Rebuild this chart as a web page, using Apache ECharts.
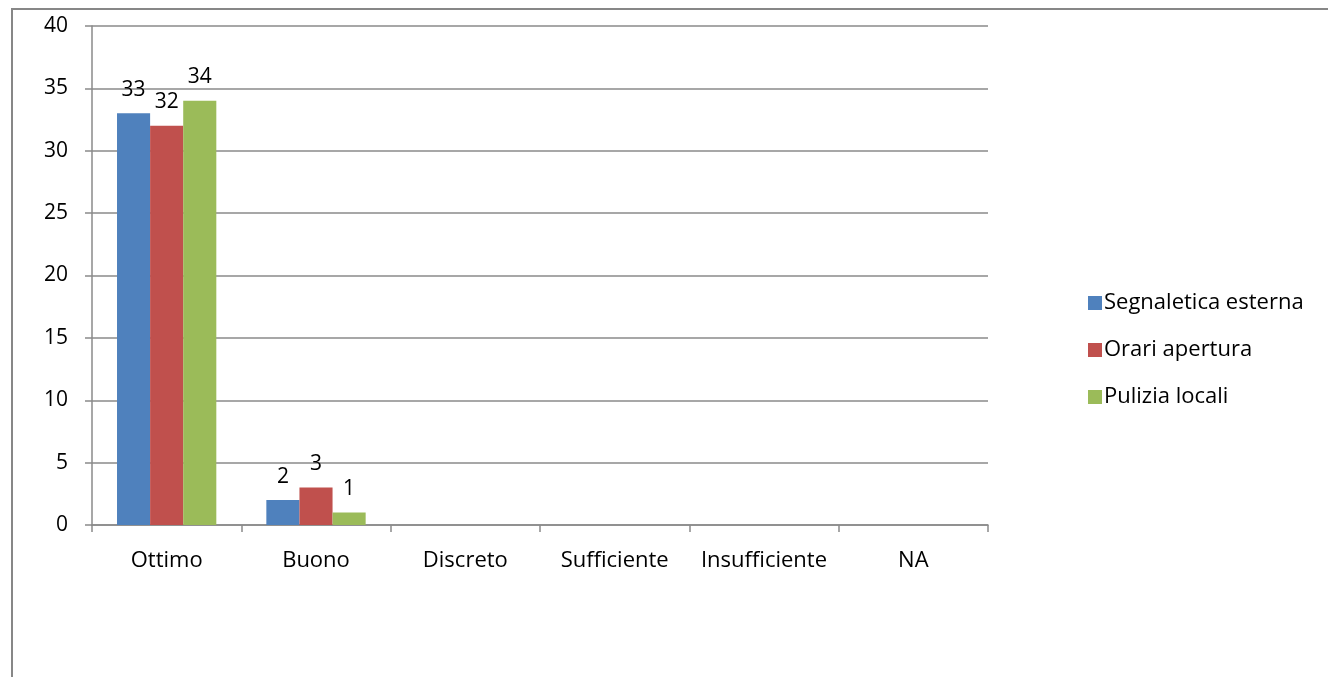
<!DOCTYPE html>
<html>
<head>
<meta charset="utf-8">
<style>
  html, body { margin: 0; padding: 0; background: #fff; }
  #chart { width: 1328px; height: 677px; }
</style>
<script src="https://cdn.jsdelivr.net/npm/echarts@6/dist/echarts.min.js"></script>
</head>
<body>
<div id="chart"></div>
<script>
// Clustered bars: ratings per aspect, Excel-style look.
const categories = ["Ottimo", "Buono", "Discreto", "Sufficiente", "Insufficiente", "NA"];
const segnaletica = [33, 2, null, null, null, null];
const orari = [32, 3, null, null, null, null];
const pulizia = [34, 1, null, null, null, null];
const yTicks = { min: 0, max: 40, interval: 5 };

const FONT = "'Open Sans', 'Noto Sans', sans-serif";
const FS = 21;
const GRID_C = "#8a8a8a";

const chart = echarts.init(document.getElementById("chart"));

const bar = (name, data, color) => ({
  name, type: "bar", data, barGap: "0%", barCategoryGap: "33.5%",
  itemStyle: { color },
  label: { show: true, position: "top", distance: 13, color: "#000", fontSize: FS, fontFamily: FONT },
});

chart.setOption({
  animation: false,
  graphic: [{
    type: "rect", shape: { x: 12, y: 9, width: 1400, height: 800 },
    style: { fill: "none", stroke: "#878787", lineWidth: 2 }, silent: true,
  }],
  grid: { left: 92, right: 340, top: 26, bottom: 152 },
  xAxis: {
    type: "category", data: categories,
    axisLine: { lineStyle: { color: GRID_C, width: 1.5 } },
    axisTick: { show: true, length: 7, lineStyle: { color: GRID_C, width: 1.5 } },
    axisLabel: { color: "#000", fontSize: 22, fontFamily: FONT, margin: 25, interval: 0 },
  },
  yAxis: {
    type: "value", ...yTicks,
    axisLine: { show: true, lineStyle: { color: GRID_C, width: 1.5 } },
    axisTick: { show: true, length: 7, lineStyle: { color: GRID_C, width: 1.5 } },
    axisLabel: { color: "#000", fontSize: FS, fontFamily: FONT, margin: 24 },
    splitLine: { lineStyle: { color: GRID_C, width: 1.5 } },
  },
  legend: {
    orient: "vertical", left: 1083, top: 287, itemWidth: 14, itemHeight: 14, itemGap: 25,
    icon: "rect",
    textStyle: { color: "#000", fontSize: 22, fontFamily: FONT, padding: [0, 0, 0, -3] },
  },
  series: [
    bar("Segnaletica esterna", segnaletica, "#4f81bd"),
    bar("Orari apertura", orari, "#c0504d"),
    bar("Pulizia locali", pulizia, "#9bbb59"),
  ],
});
</script>
</body>
</html>
